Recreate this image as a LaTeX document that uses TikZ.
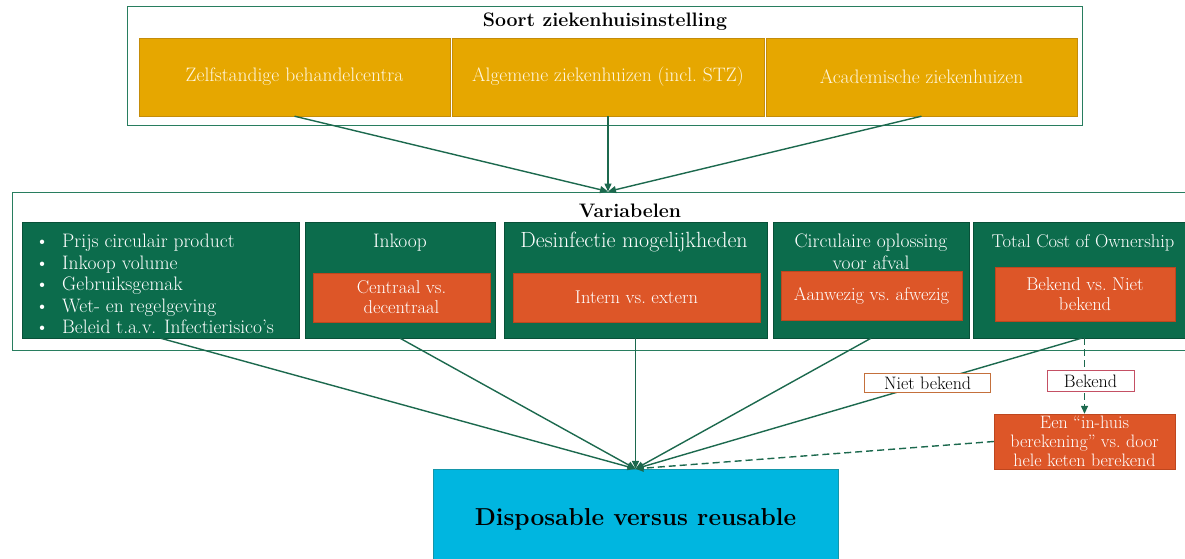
\documentclass[tikz,border=0pt]{standalone}
\usetikzlibrary{arrows.meta}
\definecolor{hgreen}{RGB}{12,108,76}
\definecolor{hgreendark}{RGB}{8,80,56}
\definecolor{framegreen}{RGB}{40,125,95}
\definecolor{linegreen}{RGB}{28,105,78}
\definecolor{hyellow}{RGB}{230,167,0}
\definecolor{hyellowdark}{RGB}{196,140,10}
\definecolor{yellowtext}{RGB}{255,246,222}
\definecolor{horange}{RGB}{221,86,40}
\definecolor{horangedark}{RGB}{190,70,30}
\definecolor{hblue}{RGB}{0,182,224}
\definecolor{hbluedark}{RGB}{20,150,170}
\definecolor{nietborder}{RGB}{196,112,60}
\definecolor{bekendborder}{RGB}{196,80,100}
\tikzset{
  frame/.style={draw=framegreen, line width=1pt, inner sep=0pt},
  htitle/.style={font=\fontsize{19.5}{22}\selectfont\bfseries, inner sep=0pt},
  ybox/.style={draw=hyellowdark, fill=hyellow, text=yellowtext, minimum height=78pt,
    inner sep=0pt, font=\fontsize{19.5}{22}\selectfont},
  gbox/.style={draw=hgreendark, fill=hgreen, minimum height=116pt, inner sep=0pt},
  gtext/.style={text=white, inner sep=0pt, align=center, font=\fontsize{19.5}{21.5}\selectfont},
  obox/.style={draw=horangedark, fill=horange, text=white, inner sep=0pt, align=center,
    font=\fontsize{18.5}{20}\selectfont},
  lbl/.style={fill=white, solid, line width=1pt, inner sep=0pt, font=\fontsize{18}{20}\selectfont},
  conn/.style={draw=linegreen, line width=1.4pt, -{Triangle[length=8pt,width=7pt]}},
  dconn/.style={conn, dash pattern=on 7pt off 4pt},
}
\begin{document}
\begin{tikzpicture}[x=1pt, y=-1pt]
  \clip (0,0) rectangle (1185,559);
  \fill[white] (0,0) rectangle (1185,559);
  \node[frame, minimum width=955pt, minimum height=119pt] (soort) at (604.5,66.5) {};
  \node[htitle] (soortt) at (605,22) {Soort ziekenhuisinstelling};
  \node[ybox, minimum width=311pt] (zbc) at (294.5,77) {Zelfstandige behandelcentra};
  \node[ybox, minimum width=312pt] (alg) at (608,77) {Algemene ziekenhuizen (incl.\ STZ)};
  \node[ybox, minimum width=311pt] (acad) at (921.5,77) {Academische ziekenhuizen};

  \node[frame, minimum width=1180pt, minimum height=158pt] (var) at (602,271) {};
  \node[htitle] (vart) at (630,211) {Variabelen};
  \node[gbox, minimum width=277pt] (bullets) at (160.5,280) {};
  \node[gtext, anchor=west, align=left] (blist) at (35,284)
    {\textbullet\hspace{13pt}Prijs circulair product\\
     \textbullet\hspace{13pt}Inkoop volume\\
     \textbullet\hspace{13pt}Gebruiksgemak\\
     \textbullet\hspace{13pt}Wet- en regelgeving\\
     \textbullet\hspace{13pt}Beleid t.a.v. Infectierisico's};
  \node[gbox, minimum width=190pt] (inkoop) at (400,280) {};
  \node[gtext] (inkoopt) at (400,243) {Inkoop};
  \node[obox, minimum width=177pt, minimum height=49pt] (centr) at (401.5,297.5) {Centraal vs.\\decentraal};
  \node[gbox, minimum width=263pt] (desinf) at (635.5,280) {};
  \node[gtext, font=\fontsize{22}{24}\selectfont] (desinft) at (634,242) {Desinfectie mogelijkheden};
  \node[obox, minimum width=247pt, minimum height=49pt] (intern) at (636.5,297.5) {Intern vs.\ extern};
  \node[gbox, minimum width=196pt] (circ) at (871,280) {};
  \node[gtext] (circt) at (871,252) {Circulaire oplossing\\voor afval};
  \node[obox, minimum width=181pt, minimum height=49pt] (aanw) at (871.5,295.5) {Aanwezig vs.\ afwezig};
  \node[gbox, minimum width=217pt] (tco) at (1081.5,280) {};
  \node[gtext, font=\fontsize{18.5}{21}\selectfont] (tcot) at (1083,243) {Total Cost of Ownership};
  \node[obox, minimum width=180pt, minimum height=54pt] (bekvs) at (1085,294) {Bekend vs.\ Niet\\bekend};

  \node[obox, minimum width=181pt, minimum height=55pt, font=\fontsize{18}{19}\selectfont] (inhuis)
    at (1084.5,441.5) {Een ``in-huis\\berekening'' vs.\ door\\hele keten berekend};
  \node[draw=hbluedark, fill=hblue, minimum width=405pt, minimum height=100pt,
    font=\fontsize{24.5}{28}\selectfont\bfseries] (disp) at (635.5,519) {Disposable versus reusable};

  \foreach \s in {zbc, alg, acad}
    \draw[conn] (\s.south) -- (alg.south |- var.north);
  \foreach \s in {bullets, inkoop, desinf, circ}
    \draw[conn] (\s.south) -- (disp.north);
  \draw[conn] (tco.south) -- node[lbl, draw=nietborder, pos=0.345, minimum width=126pt,
    minimum height=19pt] (nietb) {Niet bekend} (disp.north);
  \draw[dconn] (inhuis.north |- tco.south) -- node[lbl, draw=bekendborder, pos=0.57,
    xshift=6pt, minimum width=87pt, minimum height=21pt] (bekend) {Bekend} (inhuis.north);
  \draw[dconn] (inhuis.west) -- (disp.north);
\end{tikzpicture}
\end{document}
